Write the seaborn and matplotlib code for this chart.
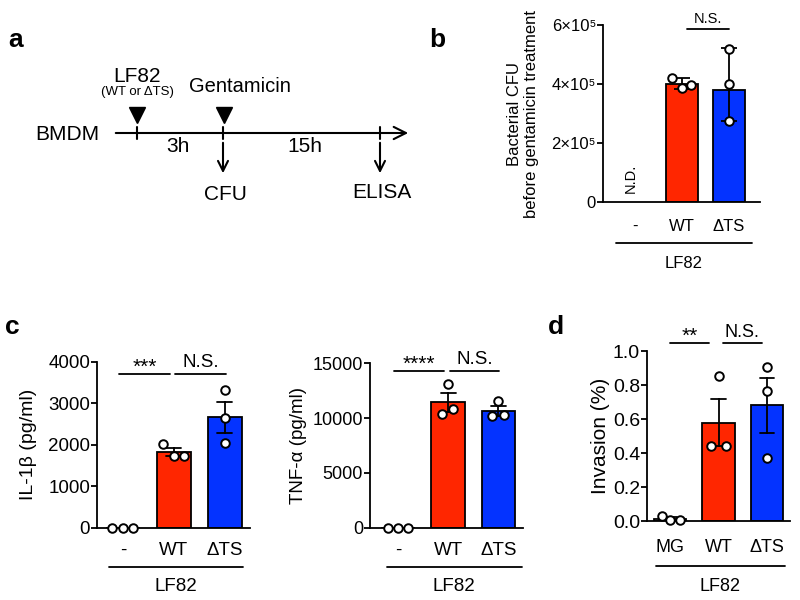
import numpy as np
import pandas as pd
import matplotlib
matplotlib.use('Agg')
import matplotlib.pyplot as plt
import seaborn as sns

# ---------------- data ----------------
groups_c = ['-', 'WT', 'ΔTS']
groups_d = ['MG', 'WT', 'ΔTS']

# panel b: bacterial CFU (N.D. for '-')
b_bar = [np.nan, 4.0e5, 3.8e5]
b_wt = [4.21e5, 3.87e5, 3.98e5]
b_dts = [5.2e5, 4.0e5, 2.75e5]
b_ticks = [0, 2e5, 4e5, 6e5]
b_ticklabels = ['0', '2×10⁵', '4×10⁵', '6×10⁵']

# panel c: IL-1beta (pg/ml)
il1b_none = [0, 0, 0]
il1b_wt = [2010, 1730, 1725]
il1b_dts = [3310, 2640, 2030]

# panel c: TNF-alpha (pg/ml)
tnf_none = [0, 0, 0]
tnf_wt = [13100, 10400, 10800]
tnf_dts = [11600, 10200, 10250]

# panel d: invasion (%)
inv_mg = [0.03, 0.005, 0.005]
inv_wt = [0.853, 0.441, 0.441]
inv_dts = [0.908, 0.765, 0.369]

# horizontal spread of the replicate dots (category units)
jit_b = [[0, 0, 0], [-0.22, 0, 0.19], [0, 0, 0]]
jit_il = [[-0.22, 0, 0.2], [-0.22, 0, 0.21], [0, 0, 0]]
jit_tnf = [[-0.2, 0, 0.2], [0, -0.12, 0.1], [0, -0.12, 0.12]]
jit_d = [[-0.17, 0, 0.2], [0, -0.16, 0.15], [0, 0, 0]]

RED = '#FF2600'
BLUE = '#0433FF'

sns.set_style('ticks')
plt.rcParams['font.family'] = ['Liberation Sans', 'DejaVu Sans']
plt.rcParams.update({
    'axes.linewidth': 1.3,
    'xtick.major.width': 1.3, 'ytick.major.width': 1.3,
    'xtick.major.size': 4, 'ytick.major.size': 4,
    'xtick.color': 'black', 'ytick.color': 'black',
    'axes.edgecolor': 'black', 'text.color': 'black',
    'axes.labelcolor': 'black',
})

fig = plt.figure(figsize=(8, 6), dpi=100)

# overlay in pixel coordinates for panel a and panel letters
ov = fig.add_axes([0, 0, 1, 1], zorder=-1)
ov.set_xlim(0, 800)
ov.set_ylim(600, 0)
ov.axis('off')


def dots(ax, i, vals, offs):
    ax.scatter(i + np.array(offs), vals, s=38, facecolor='white', edgecolor='black',
               linewidth=1.4, zorder=6, clip_on=False)


def sig(ax, x0, x1, y, label, fs, star=False):
    ax.plot([x0, x1], [y, y], color='black', lw=1.3, clip_on=False)
    if star:
        ax.annotate(label, xy=((x0 + x1) / 2, y), xytext=(0, -2), textcoords='offset points',
                    ha='center', va='bottom', fontsize=fs + 2, annotation_clip=False)
    else:
        ax.annotate(label, xy=((x0 + x1) / 2, y), xytext=(0, 2), textcoords='offset points',
                    ha='center', va='bottom', fontsize=fs, annotation_clip=False)


def bracket(ax, x0, x1, yfrac, tfrac, fs):
    tr = ax.get_xaxis_transform()
    ax.plot([x0, x1], [yfrac, yfrac], color='black', lw=1.3, transform=tr, clip_on=False)
    ax.text((x0 + x1) / 2, tfrac, 'LF82', transform=tr, ha='center', va='center', fontsize=fs)


def bar_panel(ax, groups, vals, jit, ylim, yticks, ylabel, fs_tick, fs_cat, fs_lab, cat_pad,
              lab_pad):
    df = pd.DataFrame({'group': np.repeat(groups, 3), 'value': np.concatenate(vals)})
    pal = {groups[0]: 'white', groups[1]: RED, groups[2]: BLUE}
    sns.barplot(data=df, x='group', y='value', order=groups, hue='group', palette=pal,
                saturation=1, errorbar='se', capsize=0.3, width=0.67, edgecolor='black',
                linewidth=1.3, err_kws={'color': 'black', 'linewidth': 1.3}, legend=False, ax=ax)
    for i, (v, o) in enumerate(zip(vals, jit)):
        dots(ax, i, v, o)
    ax.set_ylim(*ylim)
    ax.set_yticks(yticks)
    ax.tick_params(axis='y', labelsize=fs_tick, pad=1)
    ax.tick_params(axis='x', length=0, labelsize=fs_cat, pad=cat_pad)
    ax.set_xlabel('')
    ax.set_ylabel(ylabel, fontsize=fs_lab, labelpad=lab_pad)
    sns.despine(ax=ax)


# ---------------- panel a ----------------
ov.text(16, 40, 'a', fontsize=19, fontweight='bold', ha='center', va='center')
ov.annotate('', xy=(411, 133), xytext=(113, 133),
            arrowprops=dict(arrowstyle='->', lw=1.5, mutation_scale=22, color='black'))
for xp in (137, 223, 380):
    ov.plot([xp, xp], [127, 139], color='black', lw=1.5)
for xp in (137, 224):
    ov.plot([xp], [115], marker='v', markersize=11, color='black')
for xp in (223, 380):
    ov.annotate('', xy=(xp, 176), xytext=(xp, 140),
                arrowprops=dict(arrowstyle='->', lw=1.5, mutation_scale=18, color='black'))
ov.text(67, 135, 'BMDM', fontsize=15, ha='center', va='center')
ov.text(137, 77, 'LF82', fontsize=15, ha='center', va='center')
ov.text(137, 92, '(WT or ΔTS)', fontsize=9.5, ha='center', va='center')
ov.text(240, 86, 'Gentamicin', fontsize=14.5, ha='center', va='center')
ov.text(178, 147, '3h', fontsize=15, ha='center', va='center')
ov.text(305, 147, '15h', fontsize=15, ha='center', va='center')
ov.text(225, 195, 'CFU', fontsize=15, ha='center', va='center')
ov.text(382, 193, 'ELISA', fontsize=15, ha='center', va='center')

# panel letters
ov.text(437, 40, 'b', fontsize=19, fontweight='bold', ha='center', va='center')
ov.text(12, 327, 'c', fontsize=19, fontweight='bold', ha='center', va='center')
ov.text(556, 327, 'd', fontsize=19, fontweight='bold', ha='center', va='center')

# ---------------- panel b ----------------
axb = fig.add_axes([603 / 800, 1 - 202 / 600, 157 / 800, 177 / 600])
sns.barplot(x=groups_c, y=b_bar, order=groups_c, hue=groups_c,
            palette={'-': 'white', 'WT': RED, 'ΔTS': BLUE}, saturation=1, errorbar=None,
            width=0.68, edgecolor='black', linewidth=1.3, legend=False, ax=axb)
axb.errorbar([1, 2], [np.mean(b_wt), np.mean(b_dts)],
             yerr=[np.std(b_wt, ddof=1), np.std(b_dts, ddof=1)], fmt='none',
             ecolor='black', elinewidth=1.3, capsize=6, capthick=1.3, zorder=4)
dots(axb, 1, b_wt, jit_b[1])
dots(axb, 2, b_dts, jit_b[2])
axb.set_xlim(-0.68, 2.66)
axb.set_ylim(0, 6e5)
axb.set_yticks(b_ticks)
axb.set_yticklabels(b_ticklabels)
axb.tick_params(axis='y', labelsize=12, pad=1)
axb.tick_params(axis='x', length=0, labelsize=12, pad=12)
axb.set_ylabel('Bacterial CFU\nbefore gentamicin treatment', fontsize=12, labelpad=9,
               linespacing=1.15)
sns.despine(ax=axb)
axb.text(-0.1, 0.3e5, 'N.D.', rotation=90, ha='center', va='bottom', fontsize=10.5)
sig(axb, 1.1, 2.0, 5.87e5, 'N.S.', 10.5)
bracket(axb, -0.4, 2.49, -0.232, -0.345, 12)

# ---------------- panel c (IL-1b) ----------------
axc1 = fig.add_axes([97 / 800, 1 - 527.7 / 600, 153 / 800, 166 / 600])
bar_panel(axc1, groups_c, [il1b_none, il1b_wt, il1b_dts], jit_il, (0, 4000),
          [0, 1000, 2000, 3000, 4000], 'IL-1β (pg/ml)', 13.5, 13.5, 14, 10, 8)
axc1.set_xlim(-0.51, 2.5)
sig(axc1, -0.08, 0.93, 3700, '***', 13, star=True)
sig(axc1, 1.03, 2.03, 3700, 'N.S.', 13.5)
bracket(axc1, -0.28, 2.36, -0.237, -0.357, 13.5)

# ---------------- panel c (TNF-a) ----------------
axc2 = fig.add_axes([370 / 800, 1 - 527.7 / 600, 153 / 800, 164.4 / 600])
bar_panel(axc2, groups_c, [tnf_none, tnf_wt, tnf_dts], jit_tnf, (0, 15000),
          [0, 5000, 10000, 15000], 'TNF-α (pg/ml)', 13, 13.5, 13.5, 10, 4)
axc2.set_xlim(-0.56, 2.49)
sig(axc2, -0.08, 0.92, 14325, '****', 13, star=True)
sig(axc2, 1.04, 2.02, 14325, 'N.S.', 13.5)
bracket(axc2, -0.23, 2.47, -0.237, -0.36, 13.5)

# ---------------- panel d ----------------
axd = fig.add_axes([647 / 800, 1 - 521 / 600, 143 / 800, 170 / 600])
bar_panel(axd, groups_d, [inv_mg, inv_wt, inv_dts], jit_d, (0, 1.0),
          [0.0, 0.2, 0.4, 0.6, 0.8, 1.0], 'Invasion (%)', 14, 13, 15, 13, 2)
axd.set_yticklabels(['0.0', '0.2', '0.4', '0.6', '0.8', '1.0'])
axd.set_xlim(-0.47, 2.47)
sig(axd, 0.0, 0.81, 1.045, '**', 13, star=True)
sig(axd, 1.09, 1.89, 1.045, 'N.S.', 13)
bracket(axd, -0.29, 2.37, -0.263, -0.386, 13)

fig.savefig('out.png', dpi=100)
